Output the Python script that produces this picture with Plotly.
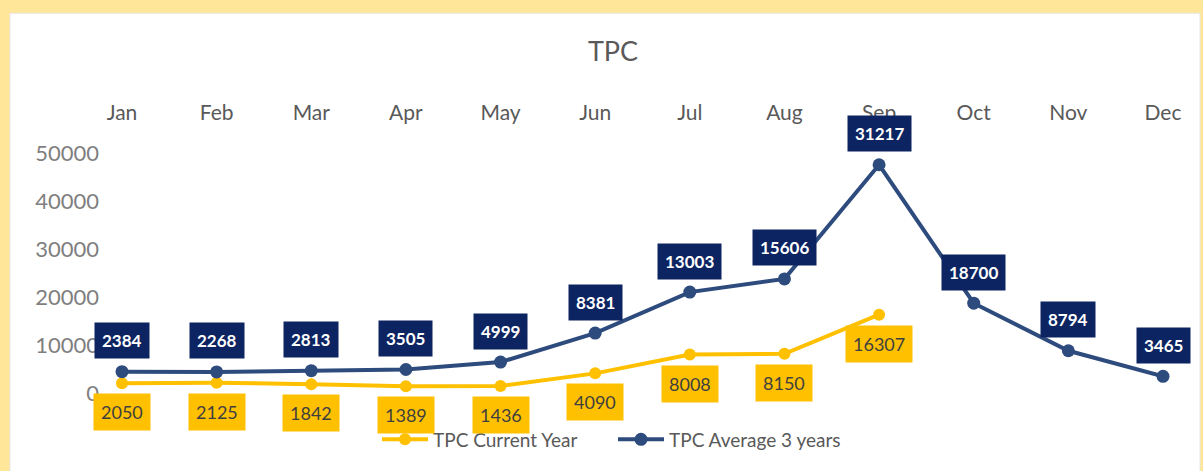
import numpy as np
import plotly.graph_objects as go

months = ["Jan", "Feb", "Mar", "Apr", "May", "Jun", "Jul", "Aug", "Sep", "Oct", "Nov", "Dec"]
current_year = [2050, 2125, 1842, 1389, 1436, 4090, 8008, 8150, 16307, None, None, None]
avg_3_years = [2384, 2268, 2813, 3505, 4999, 8381, 13003, 15606, 31217, 18700, 8794, 3465]
y_ticks = [0, 10000, 20000, 30000, 40000, 50000]

# stacked line chart: the average series sits on top of the current year series
cur_arr = np.array([v if v is not None else 0 for v in current_year], dtype=float)
avg_stacked = cur_arr + np.array(avg_3_years, dtype=float)

YELLOW = "#FFC000"
NAVY_LINE = "#2E4B7D"
NAVY_BOX = "#0C2461"
FONT = "Lato"

W, H = 1203, 471
L, R, T, B = 122, 40, 125, 75
pw, ph = W - L - R, H - T - B

def px_to_paper_x(px):
    return (px - L) / pw

def px_to_paper_y(py):
    return (H - B - py) / ph

fig = go.Figure()
fig.add_trace(go.Scatter(
    x=months, y=current_year, name="TPC Current Year", mode="lines+markers",
    line=dict(color=YELLOW, width=4), marker=dict(color=YELLOW, size=12),
    cliponaxis=False,
))
fig.add_trace(go.Scatter(
    x=months, y=avg_stacked, name="TPC Average 3 years", mode="lines+markers",
    line=dict(color=NAVY_LINE, width=4), marker=dict(color=NAVY_LINE, size=13),
    cliponaxis=False,
))

annotations = []
for m, v in zip(months, current_year):
    if v is None:
        continue
    annotations.append(dict(
        x=m, y=v, xref="x", yref="y", text=str(v), showarrow=False,
        yshift=-29, bgcolor=YELLOW, borderpad=7,
        font=dict(family=FONT, size=18, color="#3F3F3F"),
    ))
for m, v, s in zip(months, avg_3_years, avg_stacked):
    annotations.append(dict(
        x=m, y=s, xref="x", yref="y", text="<b>%d</b>" % v, showarrow=False,
        yshift=31, bgcolor=NAVY_BOX, borderpad=7,
        font=dict(family=FONT, size=17, color="white"),
    ))

shapes = [dict(
    type="rect", xref="paper", yref="paper", layer="below",
    x0=px_to_paper_x(10), x1=px_to_paper_x(1200),
    y0=px_to_paper_y(H + 5), y1=px_to_paper_y(12),
    fillcolor="white", line=dict(color="#E6E6E6", width=1),
)]

fig.update_layout(
    width=W, height=H,
    margin=dict(l=L, r=R, t=T, b=B),
    paper_bgcolor="#FFE699",
    plot_bgcolor="rgba(0,0,0,0)",
    title=dict(text="TPC", x=613 / W, xanchor="center", y=1 - 52 / H, yanchor="middle",
               font=dict(family=FONT, size=27, color="#595959")),
    font=dict(family=FONT, color="#595959"),
    xaxis=dict(
        type="category", categoryarray=months, range=[0, 11], side="top",
        showline=False, showgrid=False, zeroline=False, ticks="",
        tickfont=dict(family=FONT, size=21, color="#595959"),
    ),
    xaxis2=dict(
        overlaying="x", side="bottom", anchor="y", range=[0, 11],
        tick0=0, dtick=1, showticklabels=False, showgrid=False, zeroline=False,
        showline=True, linecolor="#D9D9D9", linewidth=1,
        ticks="outside", ticklen=10, tickcolor="#D9D9D9",
    ),
    yaxis=dict(
        range=[0, 55800], tickvals=y_ticks, ticktext=[str(t) for t in y_ticks],
        showgrid=False, zeroline=False, showline=False,
        tickfont=dict(family=FONT, size=22, color="#7F7F7F"),
        ticklabelstandoff=22,
    ),
    legend=dict(
        orientation="h", x=px_to_paper_x(377), xanchor="left",
        y=px_to_paper_y(443), yanchor="middle",
        font=dict(family=FONT, size=19, color="#595959"),
        bgcolor="rgba(0,0,0,0)", itemwidth=46,
        entrywidth=175, entrywidthmode="pixels",
    ),
    annotations=annotations,
    shapes=shapes,
    showlegend=True,
)

fig.write_html(
    "out.html",
    config={"displayModeBar": False},
    post_script="document.body.style.margin='0';document.body.style.padding='0';",
)
